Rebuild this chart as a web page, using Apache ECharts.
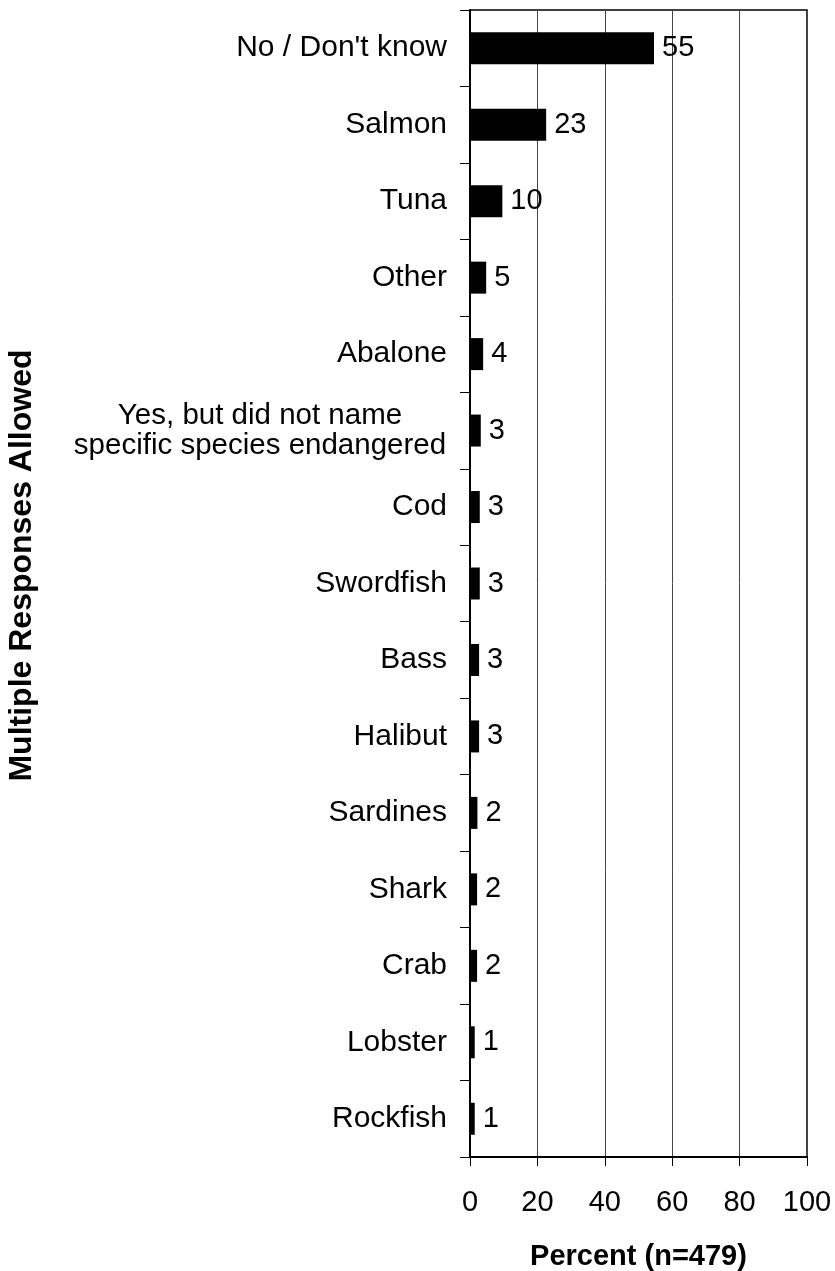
<!DOCTYPE html>
<html>
<head>
<meta charset="utf-8">
<script src="https://cdn.jsdelivr.net/npm/echarts@6/dist/echarts.min.js"></script>
<style>
html,body{margin:0;padding:0;background:#fff;}
#chart{width:835px;height:1271px;}
</style>
</head>
<body>
<div id="chart"></div>
<script>
const categories = ["No / Don't know","Salmon","Tuna","Other","Abalone",
  "Yes, but did not name\nspecific species endangered","Cod","Swordfish","Bass","Halibut",
  "Sardines","Shark","Crab","Lobster","Rockfish"];
const values = [54.6,22.6,9.6,4.8,3.9,3.2,2.9,2.9,2.7,2.7,2.2,2.1,2.1,1.4,1.4];
const valueLabels = ["55","23","10","5","4","3","3","3","3","3","2","2","2","1","1"];
const xTicks = [0,20,40,60,80,100];
const xAxisTitle = "Percent (n=479)";
const yAxisTitle = "Multiple Responses Allowed";

const FONT = "'Liberation Sans', Arial, sans-serif";
const chart = echarts.init(document.getElementById('chart'), null, {renderer:'canvas'});
chart.setOption({
  backgroundColor:'#fff',
  animation:false,
  grid:{left:470,right:28,top:10,bottom:114,containLabel:false,outerBoundsMode:'none',
    show:true,borderColor:'#000',borderWidth:1.5,backgroundColor:'transparent'},
  xAxis:{
    type:'value',min:xTicks[0],max:xTicks[xTicks.length-1],interval:20,
    name:xAxisTitle,nameLocation:'middle',nameGap:85,
    nameTextStyle:{fontFamily:FONT,fontSize:29,fontWeight:'bold',color:'#000'},
    axisLine:{show:true,lineStyle:{color:'#000',width:2}},
    axisTick:{show:true,inside:false,length:9,lineStyle:{color:'#000',width:1}},
    axisLabel:{fontFamily:FONT,fontSize:29,color:'#000',margin:31,
      formatter:v=>xTicks.includes(v)?String(v):''},
    splitLine:{show:true,lineStyle:{color:'#444',width:1}}
  },
  yAxis:{
    type:'category',data:categories,inverse:true,
    name:yAxisTitle,nameLocation:'middle',nameGap:432,nameRotate:90,
    nameTextStyle:{fontFamily:FONT,fontSize:32,fontWeight:'bold',color:'#000',padding:[0,0,0,36]},
    axisLine:{show:true,lineStyle:{color:'#000',width:2}},
    axisTick:{show:true,inside:false,length:10,alignWithLabel:false,lineStyle:{color:'#000',width:1}},
    axisLabel:{fontFamily:FONT,fontSize:30,color:'#000',margin:23,lineHeight:30,
      formatter:v=>v.indexOf('\n')>=0 ? v.split('\n').map(s=>'{c|'+s+'}').join('\n') : v,
      rich:{c:{fontFamily:FONT,fontSize:29.5,color:'#000',width:374,align:'center',lineHeight:30}}},
    splitLine:{show:false}
  },
  series:[{
    type:'bar',data:values,barWidth:32,
    itemStyle:{color:'#000'},
    label:{show:true,position:'right',distance:8,fontFamily:FONT,fontSize:29,color:'#000',
      formatter:p=>valueLabels[p.dataIndex]}
  }]
});
</script>
</body>
</html>
